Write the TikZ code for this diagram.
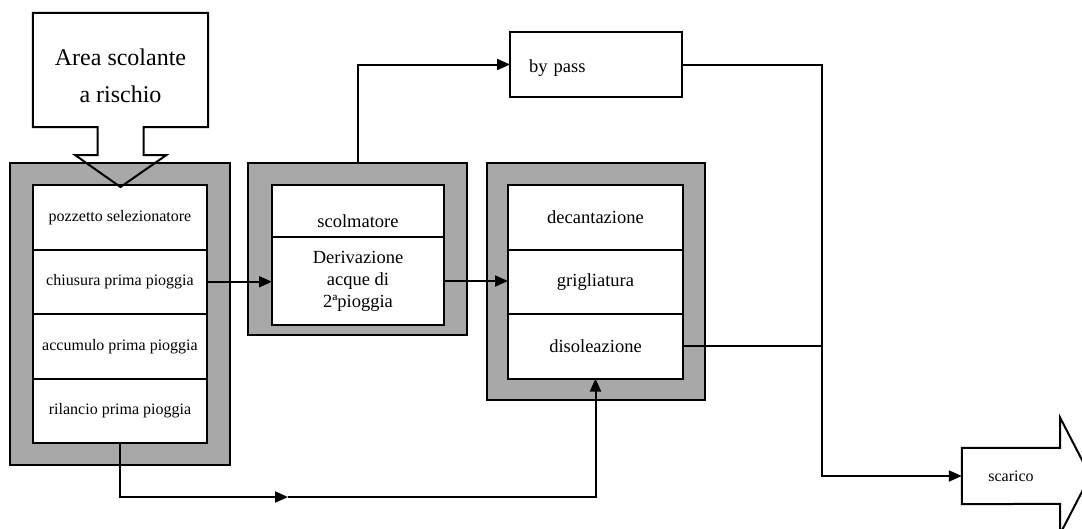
\documentclass[tikz,border=0pt]{standalone}
\usepackage{fontspec}
\setmainfont{Liberation Serif}
\usetikzlibrary{positioning,arrows.meta,calc}
\definecolor{housegray}{gray}{0.66}
\tikzset{
  housing/.style={draw,fill=housegray,line width=2pt,inner sep=0},
  stage/.style={draw,fill=white,line width=2pt,outer sep=0pt,inner sep=0,align=center},
  smalltext/.style={font=\fontsize{16}{19}\selectfont},
  bigtext/.style={font=\fontsize{18.5}{22}\selectfont},
  cellL/.style={stage,smalltext,minimum width=174pt,minimum height=64.5pt},
  cellR/.style={stage,bigtext,minimum width=175pt,minimum height=64.5pt},
  pipe/.style={line width=2pt},
  flow/.style={pipe,-{Triangle[length=13pt,width=11pt]}}
}

\begin{document}
\begin{tikzpicture}[x=1pt,y=-1pt]
  \useasboundingbox (0,0) rectangle (1082,528);
  \clip (0,0) rectangle (1082,528);

  % gray housings
  \node[housing,minimum width=220pt,minimum height=302pt] (houseA) at (120,314) {};
  \node[housing,minimum width=219pt,minimum height=172pt] (houseB) at (357.5,249) {};
  \node[housing,minimum width=218pt,minimum height=237pt] (houseC) at (596,281.5) {};

  % first rain treatment
  \node[cellL] (pozz) at (120,217.25) {pozzetto selezionatore};
  \node[cellL,below=0pt of pozz] (chius) {chiusura prima pioggia};
  \node[cellL,below=0pt of chius] (accum) {accumulo prima pioggia};
  \node[cellL,below=0pt of accum] (rilan) {rilancio prima pioggia};

  % overflow
  \node[stage,bigtext,minimum width=172pt,minimum height=52pt,
        text height=36pt,text depth=4pt] (scolm) at (358,211) {scolmatore};
  \node[stage,bigtext,minimum width=172pt,minimum height=88pt,
        below=0pt of scolm] (deriv) {Derivazione\\acque di\\2ªpioggia};

  % second treatment
  \node[cellR] (decant) at (595.5,217.25) {decantazione};
  \node[cellR,below=0pt of decant] (grigl) {grigliatura};
  \node[cellR,below=0pt of grigl] (disol) {disoleazione};

  % by pass
  \node[stage,bigtext,minimum width=172pt,minimum height=65pt,
        text width=134pt,align=left,text height=15pt,text depth=0pt] (bypass) at (596,64.5) {by pass};

  % catchment area
  \node[font=\fontsize{24}{37}\selectfont,align=center,inner sep=0,
        minimum width=175pt,minimum height=114pt,
        text height=66pt,text depth=1pt] (area) at (120.5,70) {Area scolante\\a rischio};
  \draw[pipe] (area.south west) -- (area.north west) -- (area.north east)
    -- (area.south east) -- ++(-64.5,0) -- ++(0,28) -- ++(22.5,0)
    -- (120.5,187) -- ++(-45.5,-32) -- ++(22.5,0) -- ++(0,-28) -- cycle;

  % outlet
  \node[smalltext,inner sep=0,minimum width=98pt,minimum height=56pt] (scarico) at (1011,476) {scarico};
  \draw[pipe] (scarico.south west) -- (scarico.north west) -- (scarico.north east)
    -- ++(0,-30) -- ++(30,58) -- ++(-30,58) -- ++(0,-30) -- cycle;

  % connectors
  \coordinate (outcol) at (822,63);
  \coordinate (lowmid) at (288,497);
  \draw[flow] (chius.east) -- (chius.east -| deriv.west);
  \draw[flow] (deriv.east) -- (deriv.east -| grigl.west);
  \draw[flow] (houseB.north) |- (bypass.west);
  \draw[pipe] (disol.east) -- (disol.east -| outcol);
  \draw[flow] (bypass.east) -| (outcol |- scarico.west) -- (scarico.west);
  \draw[flow] (rilan.south) |- (lowmid);
  \draw[flow] (lowmid) -| (disol.south);
\end{tikzpicture}
\end{document}
